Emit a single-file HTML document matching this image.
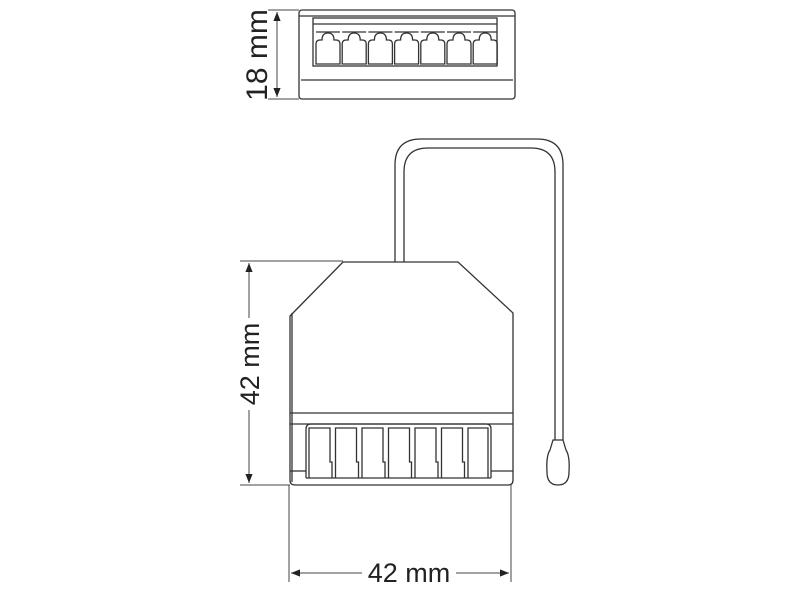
<!DOCTYPE html>
<html><head><style>html,body{margin:0;padding:0;background:#fff}svg{display:block}</style></head>
<body>
<svg width="800" height="600" viewBox="0 0 800 600" xmlns="http://www.w3.org/2000/svg" font-family="Liberation Sans, sans-serif">
<defs>
<marker id="a" viewBox="0 0 10 10" refX="10" refY="5" markerWidth="9" markerHeight="9" orient="auto-start-reverse" markerUnits="userSpaceOnUse"><path d="M0,1 L10,5 L0,9 z" fill="#222"/></marker>
</defs>
<g fill="none" stroke="#333" stroke-width="1.3">
<rect x="299" y="10" width="216" height="89" rx="3"/>
<line x1="299" y1="16" x2="515" y2="16"/>
<line x1="301" y1="80" x2="513" y2="80"/>
<rect x="313" y="18" width="184" height="48"/>
<line x1="313" y1="24" x2="497" y2="24"/>
<g id="t">
<path d="M316,64 L316,44 Q316,40 320,40 L322,40 Q322,33 328,33 Q334,33 334,40 L336,40 Q340,40 340,44 L340,64 Z"/>
<line x1="316" y1="32" x2="340" y2="32"/>
</g>
<use href="#t" x="26.2"/><use href="#t" x="52.4"/><use href="#t" x="78.6"/><use href="#t" x="104.8"/><use href="#t" x="131"/><use href="#t" x="157.2"/>
<path d="M395,262 L395,165 Q395,139 421,139 L537,139 Q563,139 563,165 L563,440"/>
<path d="M404,262 L404,172 Q404,148 428,148 L531,148 Q555,148 555,172 L555,440"/>
<path d="M553,440 L563,440 L566,450 Q570,456 569,472 Q569,485 558,485 Q547,485 547,472 Q546,456 550,450 Z"/>
<path d="M290,316 L343,262 L458,262 L513,313 L513,480 Q513,485 508,485 L295,485 Q290,485 290,480 Z"/>
<line x1="292" y1="313" x2="292" y2="482"/>
<line x1="290" y1="413" x2="513" y2="413"/>
<line x1="290" y1="424" x2="513" y2="424"/>
<path d="M306,478 L306,429 Q306,424 311,424 L486,424 Q491,424 491,429 L491,478"/>
<line x1="306" y1="478" x2="491" y2="478"/>
<line x1="306" y1="471" x2="290" y2="471"/>
<line x1="491" y1="471" x2="513" y2="471"/>
<g id="s">
<path d="M309,478 L309,428 L330,428 L330,462 L332,462 L332,478"/>
</g>
<use href="#s" x="26.5"/><use href="#s" x="53"/><use href="#s" x="79.5"/><use href="#s" x="106"/><use href="#s" x="132.5"/>
<path d="M468,478 L468,428 L488,428 L488,478"/>
</g>
<g stroke="#444" stroke-width="1" fill="none">
<line x1="268" y1="10" x2="299" y2="10"/><line x1="268" y1="99" x2="299" y2="99"/>
<line x1="277" y1="12" x2="277" y2="97" marker-start="url(#a)" marker-end="url(#a)"/>
<line x1="240" y1="261" x2="343" y2="261"/><line x1="240" y1="485" x2="290" y2="485"/>
<line x1="249" y1="263" x2="249" y2="318" marker-start="url(#a)"/>
<line x1="249" y1="410" x2="249" y2="483" marker-end="url(#a)"/>
<line x1="289" y1="485" x2="289" y2="582"/><line x1="511" y1="485" x2="511" y2="582"/>
<line x1="291" y1="573" x2="362" y2="573" marker-start="url(#a)"/>
<line x1="456" y1="573" x2="509" y2="573" marker-end="url(#a)"/>
</g>
<g fill="#222" font-size="27">
<text x="0" y="0" transform="translate(267,55) rotate(-90)" text-anchor="middle" font-size="30">18 mm</text>
<text x="0" y="0" transform="translate(259,364) rotate(-90)" text-anchor="middle">42 mm</text>
<text x="409" y="582" text-anchor="middle">42 mm</text>
</g>
</svg>
</body></html>
